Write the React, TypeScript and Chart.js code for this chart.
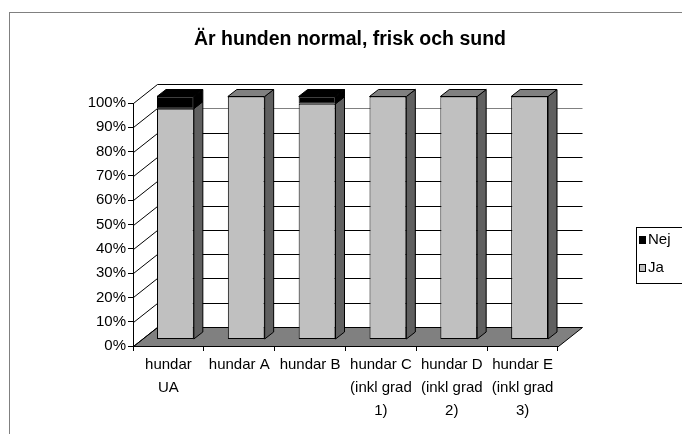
import React, { useEffect, useRef } from 'react';
import { Chart, registerables } from 'chart.js';

Chart.register(...registerables);

const titleText = 'Är hunden normal, frisk och sund';
const categories: string[][] = [
  ['hundar', 'UA'],
  ['hundar A'],
  ['hundar B'],
  ['hundar C', '(inkl grad', '1)'],
  ['hundar D', '(inkl grad', '2)'],
  ['hundar E', '(inkl grad', '3)'],
];
const jaValues = [95, 100, 97, 100, 100, 100];
const nejValues = [5, 0, 3, 0, 0, 0];
const yTickValues = [0, 10, 20, 30, 40, 50, 60, 70, 80, 90, 100];

const FONT = "'Liberation Sans', Arial, sans-serif";
const BACK = { dx: 24, dy: -19 };
const BAR = { dx: 7, dy: -6.5 };
const DEPTH = { dx: 9, dy: -7 };

const faceColors: Record<string, { side: string; top: string }> = {
  Ja: { side: '#606060', top: '#808080' },
  Nej: { side: '#000000', top: '#000000' },
};

const threeD = {
  id: 'threeD',
  afterLayout(chart: any) {
    const t = chart.titleBlock;
    if (t) {
      t.left = 0;
      t.right = 700;
      t.width = 700;
    }
  },
  beforeDraw(chart: any) {
    const ctx = chart.ctx;
    ctx.save();
    ctx.fillStyle = '#ffffff';
    ctx.fillRect(0, 0, chart.width, chart.height);
    ctx.strokeStyle = '#808080';
    ctx.lineWidth = 1;
    ctx.strokeRect(9.5, 12.5, chart.width + 40, chart.height + 40);
    ctx.restore();
  },
  beforeDatasetsDraw(chart: any) {
    const ctx = chart.ctx;
    const a = chart.chartArea;
    const y = chart.scales.y;
    const L = Math.round(a.left) + 0.5;
    const R = Math.round(a.right) + 0.5;
    ctx.save();
    ctx.lineWidth = 1;
    const p0 = Math.round(y.getPixelForValue(0)) + 0.5;
    ctx.beginPath();
    ctx.moveTo(L, p0);
    ctx.lineTo(L + BACK.dx, p0 + BACK.dy);
    ctx.lineTo(R + BACK.dx, p0 + BACK.dy);
    ctx.lineTo(R, p0);
    ctx.closePath();
    ctx.fillStyle = '#808080';
    ctx.fill();
    ctx.strokeStyle = '#000000';
    ctx.stroke();
    for (const v of yTickValues) {
      const py = Math.round(y.getPixelForValue(v)) + 0.5;
      ctx.strokeStyle = '#000000';
      ctx.beginPath();
      ctx.moveTo(L, py);
      ctx.lineTo(L + BACK.dx, py + BACK.dy);
      ctx.stroke();
      if (v > 0) {
        ctx.strokeStyle = v === 90 ? '#808080' : '#000000';
        ctx.beginPath();
        ctx.moveTo(L + BACK.dx, py + BACK.dy);
        ctx.lineTo(R + BACK.dx, py + BACK.dy);
        ctx.stroke();
      }
    }
    ctx.restore();
    ctx.save();
    ctx.translate(BAR.dx, BAR.dy);
  },
  afterDatasetsDraw(chart: any) {
    const ctx = chart.ctx;
    const n = chart.data.labels.length;
    ctx.lineWidth = 1;
    ctx.strokeStyle = '#000000';
    for (let i = 0; i < n; i++) {
      let topMost: any = null;
      chart.data.datasets.forEach((ds: any, di: number) => {
        const v = ds.data[i];
        if (!v) return;
        const el = chart.getDatasetMeta(di).data[i];
        const p = el.getProps(['x', 'y', 'base', 'width'], true);
        const left = p.x - p.width / 2;
        const right = p.x + p.width / 2;
        const top = Math.min(p.y, p.base);
        const bottom = Math.max(p.y, p.base);
        const fc = faceColors[ds.label];
        ctx.beginPath();
        ctx.moveTo(right, top);
        ctx.lineTo(right + DEPTH.dx, top + DEPTH.dy);
        ctx.lineTo(right + DEPTH.dx, bottom + DEPTH.dy);
        ctx.lineTo(right, bottom);
        ctx.closePath();
        ctx.fillStyle = fc.side;
        ctx.fill();
        ctx.stroke();
        if (!topMost || top < topMost.top) topMost = { left, right, top, fc };
      });
      if (topMost) {
        const { left, right, top, fc } = topMost;
        ctx.beginPath();
        ctx.moveTo(left, top);
        ctx.lineTo(left + DEPTH.dx, top + DEPTH.dy);
        ctx.lineTo(right + DEPTH.dx, top + DEPTH.dy);
        ctx.lineTo(right, top);
        ctx.closePath();
        ctx.fillStyle = fc.top;
        ctx.fill();
        ctx.stroke();
      }
    }
    ctx.restore();
  },
  afterDraw(chart: any) {
    const ctx = chart.ctx;
    ctx.save();
    ctx.lineWidth = 1;
    ctx.strokeStyle = '#000000';
    ctx.fillStyle = '#ffffff';
    const bx = 636.5, by = 227.5;
    ctx.fillRect(bx, by, 80, 56);
    ctx.strokeRect(bx, by, 80, 56);
    const items = [...chart.data.datasets].reverse();
    ctx.font = `15px ${FONT}`;
    ctx.textBaseline = 'middle';
    items.forEach((ds: any, k: number) => {
      const cy = 240 + k * 28;
      ctx.fillStyle = ds.backgroundColor;
      ctx.fillRect(639.5, cy - 3.5, 6, 7);
      ctx.strokeRect(639.5, cy - 3.5, 6, 7);
      ctx.fillStyle = '#000000';
      ctx.fillText(ds.label, 648, cy);
    });
    ctx.restore();
  },
};

export default function App() {
  const ref = useRef<HTMLCanvasElement | null>(null);
  useEffect(() => {
    if (!ref.current) return;
    const chart = new Chart(ref.current, {
      type: 'bar',
      data: {
        labels: categories as any,
        datasets: [
          {
            label: 'Ja',
            data: jaValues,
            backgroundColor: '#c0c0c0',
            borderColor: '#000000',
            borderWidth: 1,
            borderSkipped: false,
            clip: false as any,
          },
          {
            label: 'Nej',
            data: nejValues,
            backgroundColor: '#000000',
            borderColor: '#000000',
            borderWidth: (c: any) => (c.raw > 0 ? 1 : 0),
            borderSkipped: false,
            clip: false as any,
          },
        ],
      },
      options: {
        animation: false,
        responsive: true,
        maintainAspectRatio: false,
        layout: { padding: { left: 0, right: 124, top: 0, bottom: 0 } },
        datasets: { bar: { barPercentage: 0.52, categoryPercentage: 1 } },
        plugins: {
          legend: { display: false },
          tooltip: { enabled: false },
          title: {
            display: true,
            text: titleText,
            color: '#000000',
            font: { family: FONT, size: 19.5, weight: 'bold', lineHeight: 1.2 },
            padding: { top: 28.3, bottom: 51.3 },
          },
        },
        scales: {
          x: {
            stacked: true,
            afterFit: (s: any) => { s.height = 88; },
            grid: { display: true, drawOnChartArea: false, drawTicks: true, tickLength: 5, color: '#000000', offset: true },
            border: { display: true, color: '#000000' },
            ticks: {
              color: '#000000',
              font: { family: FONT, size: 15, lineHeight: 1.55 },
              padding: 2,
              maxRotation: 0,
              autoSkip: false,
            },
          },
          y: {
            stacked: true,
            min: 0,
            max: 100,
            afterFit: (s: any) => { s.width = 133; },
            grid: { display: true, drawOnChartArea: false, drawTicks: true, tickLength: 5, color: '#000000' },
            border: { display: true, color: '#000000' },
            ticks: {
              stepSize: 10,
              color: '#000000',
              font: { family: FONT, size: 15 },
              padding: 2,
              callback: (v: any) => `${v}%`,
            },
          },
        },
      },
      plugins: [threeD],
    });
    return () => chart.destroy();
  }, []);
  return (
    <div style={{ position: 'fixed', left: 0, top: 0, width: 682, height: 434 }}>
      <canvas ref={ref} />
    </div>
  );
}
